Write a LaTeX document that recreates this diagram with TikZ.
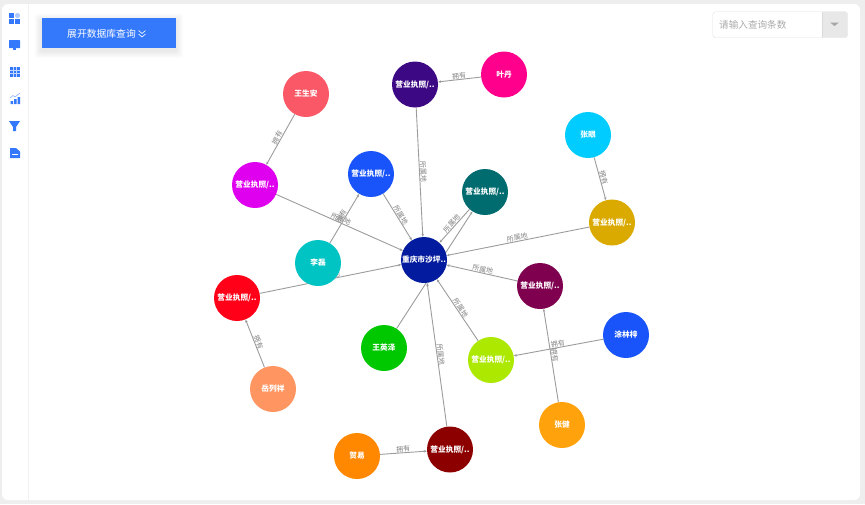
\documentclass[tikz,border=0pt]{standalone}
\usepackage{fontspec}
\setmainfont{Noto Sans CJK SC}
\usetikzlibrary{arrows.meta}
\definecolor{btn}{HTML}{3478FB}
\definecolor{bgout}{HTML}{EEEEEE}
\definecolor{sep}{HTML}{F2F2F2}
\definecolor{edgec}{HTML}{9C9C9C}
\tikzset{
  x=1pt,y=-1pt,
  ball/.style={circle,minimum size=46pt,inner sep=0pt,text=white,font=\bfseries\fontsize{7.7}{10}\selectfont},
  link/.style={draw=edgec,line width=0.9pt,-{Stealth[length=3pt,width=2.6pt]}},
  elabel/.style={text=black!48,font=\fontsize{7}{8}\selectfont,inner sep=0pt,sloped,above=0.2pt},
  icon/.style={fill=btn,draw=none}
}
\begin{document}
\begin{tikzpicture}
\useasboundingbox (0,0) rectangle (865,504);
\fill[bgout] (0,0) rectangle (865,504);
\fill[white,rounded corners=6pt] (2,4) rectangle (860,500);
\draw[sep,line width=0.8pt] (28.5,4) -- (28.5,500);
% side icons
\fill[icon] (9,13) rectangle (14,18); \fill[btn!40] (17.5,15.5) circle (2.6);
\fill[icon] (9,19) rectangle (14,23.5); \fill[icon] (15,19) rectangle (20,23.5);
\fill[icon,rounded corners=0.5pt] (9,40) rectangle (20,48); \fill[icon] (13,48) rectangle (16,50);
\fill[icon] (10,67) rectangle (20,77);
\draw[white!70!btn,line width=0.35pt] (13.3,67)--(13.3,77) (16.6,67)--(16.6,77) (10,70.3)--(20,70.3) (10,73.6)--(20,73.6);
\fill[icon] (10.5,101) rectangle (13,104) (14,99) rectangle (16.5,104) (17.5,97) rectangle (20,104);
\draw[btn!55,line width=0.6pt] (10,98)--(13,95.5)--(15,97)--(20,93);
\fill[icon] (9,121) -- (20,121) -- (16,127) -- (16,131) -- (13,131) -- (13,127) -- cycle;
\fill[icon,rounded corners=0.5pt] (10,148) -- (16,148) -- (20,151.5) -- (20,158) -- (10,158) -- cycle;
\draw[white,line width=0.5pt] (12,154.5)--(18,154.5);
% button soft shadow
\foreach \s in {7,6,5,4,3,2,1}{
  \fill[black,opacity=0.012,rounded corners=3pt] (41.5-\s,17.5-\s+3) rectangle (176+\s,48+\s+3);
}
\fill[btn] (41.5,17.5) rectangle (176,48);
\node[text=white,font=\fontsize{9.8}{12}\selectfont,inner sep=0pt] (btntxt) at (101.5,33.5) {展开数据库查询};
\draw[white,line width=0.6pt] (138.5,30.5)--(142,33.5)--(145.5,30.5) (138.5,34)--(142,37)--(145.5,34);
% select
\node[draw=black!12,fill=white,rounded corners=3pt,minimum width=135pt,minimum height=26pt,inner sep=0pt,anchor=north west] (sel) at (712.5,11.5) {};
\fill[black!9,rounded corners=3pt] (822,11.5) rectangle (847.5,37.5);
\draw[black!14,line width=0.5pt] (822,11.5)--(822,37.5);
\fill[black!35] (830,22.5)--(839,22.5)--(834.5,26)--cycle;
\node[text=black!33,font=\fontsize{9.6}{12}\selectfont,inner sep=0pt,anchor=west] (ph) at (719,24.5) {请输入查询条数};
% nodes on a top layer
\pgfdeclarelayer{fg}\pgfsetlayers{main,fg}
\begin{pgfonlayer}{fg}
\node[ball,fill={rgb,255:red,3;green,27;blue,158}] (c) at (424,260) {重庆市沙坪..};
\node[ball,fill={rgb,255:red,250;green,88;blue,102}] (wsa) at (306,94) {王生安};
\node[ball,fill={rgb,255:red,224;green,0;blue,240}] (m) at (255,185) {营业执照/..};
\node[ball,fill={rgb,255:red,24;green,84;blue,250}] (b) at (371,174) {营业执照/..};
\node[ball,fill={rgb,255:red,0;green,108;blue,112}] (t) at (485,192) {营业执照/..};
\node[ball,fill={rgb,255:red,60;green,8;blue,132}] (p) at (415,84.5) {营业执照/..};
\node[ball,fill={rgb,255:red,255;green,0;blue,140}] (yd) at (504,74.5) {叶丹};
\node[ball,fill={rgb,255:red,0;green,204;blue,255}] (zy) at (588,135) {张眼};
\node[ball,fill={rgb,255:red,218;green,170;blue,0}] (g) at (612,222.5) {营业执照/..};
\node[ball,fill={rgb,255:red,0;green,196;blue,196}] (ll) at (318,263) {李磊};
\node[ball,fill={rgb,255:red,255;green,0;blue,24}] (r) at (237,298) {营业执照/..};
\node[ball,fill={rgb,255:red,255;green,150;blue,98}] (ylx) at (273,389) {岳列祥};
\node[ball,fill={rgb,255:red,0;green,200;blue,0}] (wyz) at (384,348) {王英泽};
\node[ball,fill={rgb,255:red,172;green,232;blue,0}] (l) at (491,360) {营业执照/..};
\node[ball,fill={rgb,255:red,128;green,0;blue,80}] (mr) at (540,286) {营业执照/..};
\node[ball,fill={rgb,255:red,24;green,84;blue,250}] (tlz) at (626,335) {涂林梓};
\node[ball,fill={rgb,255:red,255;green,162;blue,12}] (zj) at (562,425) {张健};
\node[ball,fill={rgb,255:red,255;green,136;blue,0}] (hl) at (357,456) {贺易};
\node[ball,fill={rgb,255:red,140;green,0;blue,0}] (d) at (450,449.5) {营业执照/..};
\end{pgfonlayer}
% edges
\draw[link] (wsa) -- node[elabel]{拥有} (m);
\draw[link] (m) -- node[elabel]{所属地} (c);
\draw[link] (ll) -- node[elabel]{拥有} (b);
\draw[link] (b) -- node[elabel]{所属地} (c);
\draw[link] (p) -- node[elabel]{所属地} (c);
\draw[link] (t) -- node[elabel]{所属地} (c);
\draw[link] (wyz) -- node[elabel]{拥有} (t);
\draw[link] (g) -- node[elabel]{所属地} (c);
\draw[link] (mr) -- node[elabel]{所属地} (c);
\draw[link] (l) -- node[elabel]{所属地} (c);
\draw[link] (d) -- node[elabel]{所属地} (c);
\draw[link] (r) -- node[elabel]{所属地} (c);
\draw[link] (yd) -- node[elabel]{拥有} (p);
\draw[link] (zy) -- node[elabel]{拥有} (g);
\draw[link] (ylx) -- node[elabel]{拥有} (r);
\draw[link] (tlz) -- node[elabel]{拥有} (l);
\draw[link] (zj) -- node[elabel]{拥有} (mr);
\draw[link] (hl) -- node[elabel]{拥有} (d);
\end{tikzpicture}
\end{document}
